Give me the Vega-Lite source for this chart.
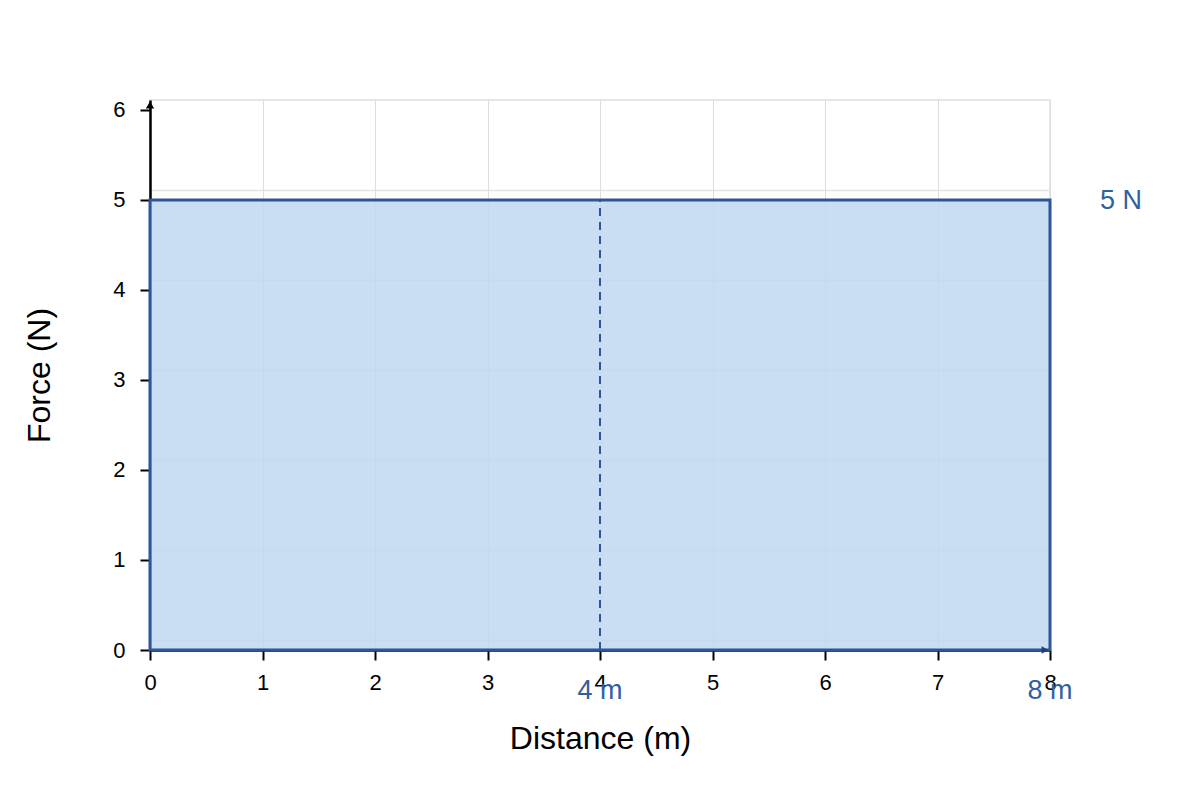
{
  "$schema": "https://vega.github.io/schema/vega-lite/v6.json",
  "width": 900,
  "height": 550,
  "autosize": "none",
  "padding": {"left": 150, "top": 100, "right": 150, "bottom": 150},
  "config": {
    "font": "Liberation Sans",
    "view": {"stroke": "#e6e6e6", "strokeWidth": 2},
    "axis": {
      "labelFont": "Liberation Sans",
      "titleFont": "Liberation Sans",
      "titleFontWeight": "normal",
      "format": "d",
      "labelFlush": false,
      "labelFontSize": 22,
      "labelColor": "#000000",
      "titleFontSize": 32,
      "titleColor": "#000000",
      "domainColor": "#000000",
      "domainWidth": 2.5,
      "tickColor": "#000000",
      "tickWidth": 2,
      "tickSize": 10,
      "gridColor": "#dddddd",
      "gridWidth": 1
    },
    "axisX": {"labelPadding": 12, "titlePadding": 30},
    "axisY": {"labelPadding": 15, "titlePadding": 56}
  },
  "datasets": {
    "work": [{"start": 0, "distance": 8, "force": 5, "zero": 0}],
    "marks": [
      {"distance": 4, "force": 5, "label": "4 m"},
      {"distance": 8, "force": 5, "label": "8 m"}
    ]
  },
  "resolve": {"scale": {"y": "independent"}},
  "layer": [
    {
      "data": {"name": "work"},
      "mark": {"type": "point", "opacity": 0},
      "encoding": {
        "x": {"field": "distance", "type": "quantitative"},
        "y": {
          "field": "force",
          "type": "quantitative",
          "scale": {"domain": [-0.111, 6], "nice": false},
          "axis": {"orient": "right", "grid": true, "gridColor": "#e3e3e3", "gridWidth": 1.5, "values": [0, 1, 2, 3, 4, 5], "labels": false, "ticks": false, "domain": false, "title": null}
        }
      }
    },
    {
      "layer": [
        {
          "data": {"name": "work"},
          "mark": {"type": "rect", "fill": "#c0d7f1", "fillOpacity": 0.85, "stroke": "#2e5597", "strokeWidth": 3},
          "encoding": {
            "x": {
              "field": "start",
              "type": "quantitative",
              "scale": {"domain": [0, 8]},
              "axis": {"values": [0, 1, 2, 3, 4, 5, 6, 7, 8], "grid": true, "title": "Distance (m)"}
            },
            "x2": {"field": "distance"},
            "y": {
              "field": "force",
              "type": "quantitative",
              "scale": {"domain": [0, 6.111], "nice": false},
              "axis": {"values": [0, 1, 2, 3, 4, 5, 6], "grid": false, "title": "Force (N)"}
            },
            "y2": {"field": "zero"}
          }
        },
        {
          "data": {"name": "marks"},
          "transform": [{"filter": "datum.distance == 4"}, {"calculate": "0", "as": "zero"}],
          "mark": {"type": "rule", "color": "#2e5597", "strokeWidth": 2, "strokeDash": [8, 6]},
          "encoding": {
            "x": {"field": "distance", "type": "quantitative"},
            "y": {"field": "zero", "type": "quantitative"},
            "y2": {"field": "force"}
          }
        },
        {
          "data": {"name": "marks"},
          "transform": [{"calculate": "0", "as": "zero"}],
          "mark": {"type": "text", "color": "#3060a0", "fontSize": 27, "dy": 41, "align": "center", "baseline": "middle"},
          "encoding": {
            "x": {"field": "distance", "type": "quantitative"},
            "y": {"field": "zero", "type": "quantitative"},
            "text": {"field": "label"}
          }
        },
        {
          "data": {"name": "work"},
          "mark": {"type": "text", "color": "#3060a0", "fontSize": 27, "dx": 71, "dy": 1, "align": "center", "baseline": "middle"},
          "encoding": {
            "x": {"field": "distance", "type": "quantitative"},
            "y": {"field": "force", "type": "quantitative"},
            "text": {"value": "5 N"}
          }
        },
        {
          "data": {"name": "work"},
          "mark": {"type": "point", "shape": "triangle-up", "filled": true, "color": "#000000", "opacity": 1, "size": 70, "yOffset": 5},
          "encoding": {
            "x": {"field": "start", "type": "quantitative"},
            "y": {"value": 0}
          }
        },
        {
          "data": {"name": "work"},
          "mark": {"type": "point", "shape": "triangle-right", "filled": true, "color": "#1f3f75", "opacity": 1, "size": 60, "xOffset": -5},
          "encoding": {
            "x": {"field": "distance", "type": "quantitative"},
            "y": {"field": "zero", "type": "quantitative"}
          }
        }
      ]
    }
  ]
}
